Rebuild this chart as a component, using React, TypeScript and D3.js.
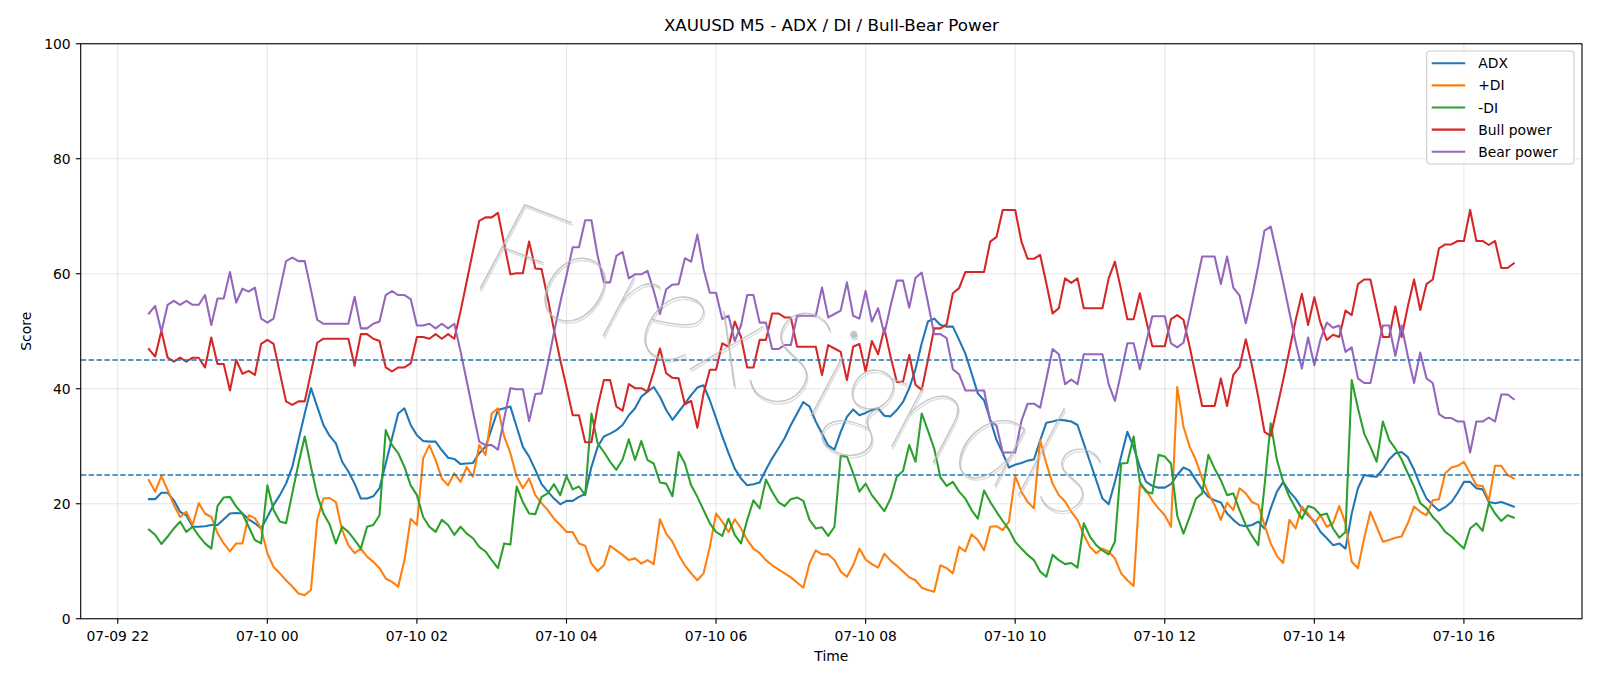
import React from "react";
import * as d3 from "d3";

// M5 bars, first bar at 07-09 22:25
const startTime = new Date(2025, 6, 9, 22, 25);
const barMinutes = 5;

const adx = [
  20.8, 20.8, 21.9, 21.9, 20.6, 18.6, 18.0, 16.0, 16.0, 16.1,
  16.3, 16.3, 17.3, 18.3, 18.4, 18.3, 17.3, 16.6, 15.7, 17.7,
  19.8, 21.5, 23.5, 26.4, 31.1, 35.7, 40.1, 36.9, 33.7, 31.8,
  30.5, 27.3, 25.6, 23.5, 20.9, 20.9, 21.3, 22.7, 27.0, 31.4,
  35.7, 36.6, 33.7, 31.9, 30.9, 30.8, 30.8, 29.3, 28.0, 27.8,
  26.9, 27.0, 27.1, 28.8, 29.9, 33.1, 36.3, 36.6, 36.9, 33.4,
  29.9, 28.2, 25.9, 23.4, 22.1, 20.9, 19.9, 20.5, 20.5, 21.2,
  21.7, 26.4, 29.9, 31.7, 32.2, 32.8, 33.7, 35.4, 36.6, 38.6,
  39.5, 40.3, 38.6, 36.3, 34.6, 36.0, 37.4, 38.9, 40.2, 40.6,
  38.0, 34.9, 31.7, 28.8, 26.1, 24.4, 23.2, 23.4, 23.7, 25.9,
  27.9, 29.6, 31.4, 33.7, 35.7, 37.7, 36.9, 34.3, 32.2, 30.1,
  29.4, 32.5, 35.1, 36.4, 35.4, 35.8, 36.3, 36.6, 35.3, 35.2,
  36.3, 37.7, 40.1, 43.4, 47.9, 51.7, 52.2, 51.1, 50.8, 50.8,
  48.5, 46.1, 42.7, 39.2, 38.0, 34.6, 31.1, 28.8, 26.3, 26.8,
  27.1, 27.5, 27.7, 31.0, 34.1, 34.3, 34.6, 34.5, 34.3, 33.7,
  30.5, 27.3, 24.1, 20.9, 19.9, 23.8, 28.2, 32.5, 29.9, 26.4,
  23.8, 23.1, 22.8, 22.8, 23.4, 25.0, 26.3, 25.8, 24.1, 22.5,
  21.2, 20.6, 20.2, 18.3, 17.2, 16.3, 16.1, 16.3, 16.9, 15.7,
  19.2, 22.1, 23.8, 22.1, 20.9, 19.2, 18.0, 16.9, 15.1, 14.0,
  12.8, 13.1, 12.2, 18.3, 22.7, 25.0, 24.8, 24.7, 26.0, 27.7,
  28.8, 29.0, 28.1, 25.9, 23.2, 20.9, 19.8, 18.8, 19.4, 20.3,
  21.9, 23.8, 23.8, 22.7, 22.5, 20.3, 20.1, 20.3, 19.9, 19.5,
];

const plusDI = [
  24.1, 22.1, 24.8, 22.4, 19.8, 17.7, 18.6, 16.3, 20.1, 18.3,
  17.7, 14.9, 13.1, 11.7, 13.1, 13.1, 18.0, 17.5, 15.7, 11.4,
  9.0, 7.9, 6.7, 5.6, 4.4, 4.1, 5.0, 17.2, 20.9, 21.0,
  20.3, 15.4, 12.8, 11.4, 12.2, 10.8, 9.9, 8.8, 7.0, 6.4,
  5.6, 10.2, 17.4, 16.3, 27.9, 30.2, 27.6, 24.4, 23.2, 25.3,
  23.8, 26.4, 24.7, 30.2, 28.5, 35.7, 36.6, 31.7, 28.8, 24.7,
  22.7, 24.4, 21.5, 20.1, 18.9, 17.4, 16.3, 15.1, 15.1, 13.1,
  12.7, 9.6, 8.3, 9.3, 12.7, 11.9, 11.1, 10.2, 10.5, 9.6,
  10.2, 9.5, 17.3, 14.8, 13.4, 11.1, 9.3, 7.9, 6.7, 7.9,
  12.5, 18.3, 16.9, 15.1, 17.3, 15.7, 13.7, 12.2, 11.4, 10.2,
  9.3, 8.6, 7.9, 7.2, 6.3, 5.4, 9.6, 11.9, 11.2, 11.2,
  10.2, 8.2, 7.3, 9.3, 12.2, 10.3, 9.5, 8.9, 11.3, 10.1,
  9.2, 8.2, 7.2, 6.7, 5.4, 5.0, 4.7, 9.3, 8.8, 7.9,
  12.5, 11.7, 14.7, 13.7, 11.9, 16.0, 16.1, 15.4, 16.9, 24.8,
  22.1, 20.3, 19.2, 31.1, 27.0, 23.5, 21.5, 20.4, 18.6, 17.2,
  14.6, 12.5, 11.4, 12.2, 11.7, 10.5, 7.9, 6.7, 5.7, 23.2,
  22.4, 20.6, 19.2, 18.0, 16.0, 40.3, 33.4, 29.9, 27.6, 24.4,
  21.8, 19.8, 17.2, 20.2, 18.9, 22.7, 21.8, 20.3, 19.8, 16.3,
  13.1, 10.9, 9.7, 17.2, 15.7, 19.5, 18.3, 16.6, 18.0, 16.0,
  16.6, 19.6, 16.6, 9.9, 8.8, 14.0, 18.6, 16.0, 13.4, 13.7,
  14.1, 14.3, 16.6, 19.5, 18.6, 18.0, 20.6, 20.8, 25.3, 26.3,
  26.6, 27.3, 25.3, 23.2, 23.1, 20.6, 26.6, 26.6, 25.0, 24.4,
];

const minusDI = [
  15.5, 14.6, 13.0, 14.3, 15.7, 16.9, 15.1, 16.0, 14.4, 13.1,
  12.2, 19.6, 21.1, 21.2, 19.5, 18.3, 16.0, 13.7, 13.1, 23.2,
  18.9, 16.9, 16.6, 21.8, 27.0, 31.7, 26.4, 21.5, 18.3, 16.4,
  13.1, 16.0, 15.1, 13.7, 12.2, 16.0, 16.3, 18.0, 32.8, 30.2,
  28.8, 26.4, 23.2, 21.5, 17.7, 16.0, 15.1, 17.2, 16.3, 14.6,
  16.0, 14.8, 14.0, 12.5, 11.7, 10.2, 8.8, 13.1, 12.9, 23.0,
  20.3, 18.3, 18.2, 21.2, 21.8, 23.4, 21.5, 24.8, 22.5, 23.0,
  21.5, 35.7, 30.5, 29.0, 27.3, 25.9, 27.7, 31.2, 27.6, 30.9,
  27.6, 27.0, 23.7, 23.5, 21.3, 29.0, 27.0, 23.2, 21.2, 18.9,
  16.6, 15.1, 14.4, 17.4, 14.6, 13.1, 17.2, 20.6, 19.2, 24.2,
  22.1, 20.3, 19.6, 20.8, 21.1, 20.5, 17.2, 15.7, 15.9, 14.4,
  16.0, 28.3, 28.2, 25.3, 22.1, 23.5, 21.5, 20.1, 18.7, 20.9,
  24.7, 25.7, 30.2, 27.3, 35.7, 32.7, 29.6, 24.6, 23.1, 23.8,
  22.1, 20.9, 18.9, 17.4, 22.3, 20.3, 18.6, 17.0, 15.5, 13.4,
  12.2, 11.1, 10.2, 8.2, 7.3, 11.1, 10.2, 9.5, 9.7, 8.9,
  16.6, 14.3, 12.8, 11.9, 11.2, 13.4, 27.0, 27.1, 31.7, 23.8,
  22.1, 21.8, 28.5, 28.2, 27.0, 17.9, 14.8, 17.7, 20.9, 21.8,
  28.5, 26.1, 24.1, 21.5, 21.8, 18.9, 16.3, 14.4, 12.8, 23.0,
  34.0, 27.6, 23.8, 21.2, 19.2, 17.4, 19.6, 19.2, 18.0, 18.3,
  15.7, 14.1, 15.1, 41.5, 36.6, 32.2, 29.9, 27.3, 34.3, 31.1,
  29.6, 27.7, 25.3, 23.0, 20.1, 19.2, 17.7, 16.6, 15.1, 14.3,
  13.2, 12.2, 15.7, 16.6, 15.3, 20.1, 18.3, 17.0, 18.0, 17.6,
];

const bullPower = [
  46.9, 45.6, 50.1, 45.4, 44.7, 45.4, 44.7, 45.4, 45.4, 43.7,
  48.9, 44.3, 44.3, 39.7, 45.0, 42.6, 43.1, 42.4, 47.8, 48.5,
  47.8, 42.8, 37.8, 37.2, 37.8, 37.8, 42.8, 48.0, 48.7, 48.7,
  48.7, 48.7, 48.7, 44.0, 49.5, 49.5, 48.7, 48.3, 43.7, 43.0,
  43.7, 43.7, 44.4, 49.0, 49.0, 48.7, 49.5, 48.7, 49.5, 48.7,
  53.5, 58.7, 64.0, 69.2, 69.8, 69.8, 70.6, 65.2, 59.9, 60.1,
  60.1, 65.6, 60.9, 60.8, 55.7, 50.2, 45.0, 40.3, 35.4, 35.4,
  30.7, 30.7, 36.9, 41.5, 41.5, 36.9, 36.2, 40.8, 40.1, 40.1,
  39.5, 43.0, 47.0, 42.7, 41.9, 41.8, 37.3, 37.9, 33.2, 39.2,
  43.3, 43.3, 47.9, 47.3, 51.7, 49.0, 43.7, 43.7, 48.5, 48.5,
  53.1, 53.1, 52.4, 52.4, 47.3, 47.3, 47.3, 47.3, 42.4, 47.6,
  47.0, 46.4, 41.5, 47.3, 47.8, 43.0, 48.3, 46.0, 50.5, 45.6,
  41.2, 41.2, 45.9, 40.7, 39.8, 45.0, 50.5, 50.5, 51.2, 56.6,
  57.5, 60.3, 60.3, 60.3, 60.3, 65.6, 66.4, 71.1, 71.1, 71.1,
  65.6, 62.6, 62.6, 63.3, 58.3, 53.1, 54.0, 59.2, 58.4, 59.2,
  54.0, 54.0, 54.0, 54.0, 59.2, 62.1, 57.2, 52.1, 52.1, 56.6,
  52.0, 47.4, 47.4, 47.4, 52.1, 52.8, 52.0, 47.3, 42.1, 37.0,
  37.0, 37.0, 41.8, 37.0, 42.4, 43.8, 48.6, 44.0, 38.6, 32.5,
  31.8, 36.6, 41.5, 46.7, 51.9, 56.5, 51.1, 55.9, 51.4, 48.5,
  49.4, 49.0, 53.6, 52.8, 58.2, 59.0, 59.0, 54.0, 49.0, 49.0,
  54.3, 49.0, 54.3, 59.0, 53.7, 58.2, 59.0, 64.4, 65.1, 65.1,
  65.7, 65.7, 71.1, 65.7, 65.7, 65.0, 65.7, 61.0, 61.0, 61.8,
];

const bearPower = [
  53.1, 54.4, 49.9, 54.6, 55.3, 54.6, 55.3, 54.6, 54.6, 56.3,
  51.1, 55.7, 55.7, 60.3, 55.0, 57.4, 56.9, 57.6, 52.2, 51.5,
  52.2, 57.2, 62.2, 62.8, 62.2, 62.2, 57.2, 52.0, 51.3, 51.3,
  51.3, 51.3, 51.3, 56.0, 50.5, 50.5, 51.3, 51.7, 56.3, 57.0,
  56.3, 56.3, 55.6, 51.0, 51.0, 51.3, 50.5, 51.3, 50.5, 51.3,
  46.5, 41.3, 36.0, 30.8, 30.2, 30.2, 29.4, 34.8, 40.1, 39.9,
  39.9, 34.4, 39.1, 39.2, 44.3, 49.8, 55.0, 59.7, 64.6, 64.6,
  69.3, 69.3, 63.1, 58.5, 58.5, 63.1, 63.8, 59.2, 59.9, 59.9,
  60.5, 57.0, 53.0, 57.3, 58.1, 58.2, 62.7, 62.1, 66.8, 60.8,
  56.7, 56.7, 52.1, 52.7, 48.3, 51.0, 56.3, 56.3, 51.5, 51.5,
  46.9, 46.9, 47.6, 47.6, 52.7, 52.7, 52.7, 52.7, 57.6, 52.4,
  53.0, 53.6, 58.5, 52.7, 52.2, 57.0, 51.7, 54.0, 49.5, 54.4,
  58.8, 58.8, 54.1, 59.3, 60.2, 55.0, 49.5, 49.5, 48.8, 43.4,
  42.5, 39.7, 39.7, 39.7, 39.7, 34.4, 33.6, 28.9, 28.9, 28.9,
  34.4, 37.4, 37.4, 36.7, 41.7, 46.9, 46.0, 40.8, 41.6, 40.8,
  46.0, 46.0, 46.0, 46.0, 40.8, 37.9, 42.8, 47.9, 47.9, 43.4,
  48.0, 52.6, 52.6, 52.6, 47.9, 47.2, 48.0, 52.7, 57.9, 63.0,
  63.0, 63.0, 58.2, 63.0, 57.6, 56.2, 51.4, 56.0, 61.4, 67.5,
  68.2, 63.4, 58.5, 53.3, 48.1, 43.5, 48.9, 44.1, 48.6, 51.5,
  50.6, 51.0, 46.4, 47.2, 41.8, 41.0, 41.0, 46.0, 51.0, 51.0,
  45.7, 51.0, 45.7, 41.0, 46.3, 41.8, 41.0, 35.6, 34.9, 34.9,
  34.3, 34.3, 28.9, 34.3, 34.3, 35.0, 34.3, 39.0, 39.0, 38.2,
];

const seriesNames = ["ADX", "+DI", "-DI", "Bull power", "Bear power"];
const seriesColors = ["#1f77b4", "#ff7f0e", "#2ca02c", "#d62728", "#9467bd"];
const seriesValues = [adx, plusDI, minusDI, bullPower, bearPower];
const yTicks = [0, 20, 40, 60, 80, 100];
const refLevels = [25, 45];

const W = 1600;
const H = 686;
const left = 80.7;
const right = 1582;
const top = 43.75;
const bottom = 618.75;
const font = "DejaVu Sans, sans-serif";

const App: React.FC = () => {
  const times = adx.map((_, i) => d3.timeMinute.offset(startTime, i * barMinutes));
  const t0 = +times[0];
  const t1 = +times[times.length - 1];
  const pad = (t1 - t0) * 0.05;

  const x = d3.scaleTime().domain([new Date(t0 - pad), new Date(t1 + pad)]).range([left, right]);
  const y = d3.scaleLinear().domain([0, 100]).range([bottom, top]);
  const xTicks = x.ticks(d3.timeHour.every(2) as d3.TimeInterval);
  const fmt = d3.timeFormat("%m-%d %H");

  const line = d3
    .line<number>()
    .x((_, i) => x(times[i]))
    .y(d => y(d));

  const legendX = 1426.7;
  const legendY = 51;
  const rowH = 22.1;

  return (
    <svg width={W} height={H} style={{ display: "block" }}>
      <style>{`body{margin:0}`}</style>
      <rect width={W} height={H} fill="#fff" />

      {/* grid */}
      <g stroke="#b0b0b0" strokeOpacity={0.3} strokeWidth={1.1}>
        {xTicks.map(t => (
          <line key={+t} x1={x(t)} x2={x(t)} y1={top} y2={bottom} />
        ))}
        {yTicks.map(v => (
          <line key={v} x1={left} x2={right} y1={y(v)} y2={y(v)} />
        ))}
      </g>

      {/* series */}
      <g fill="none" strokeWidth={2.08} strokeLinejoin="round" strokeLinecap="square">
        {seriesValues.map((vals, k) => (
          <path key={k} d={line(vals) || ""} stroke={seriesColors[k]} />
        ))}
      </g>

      {/* reference levels */}
      {refLevels.map(v => (
        <line
          key={v}
          x1={left}
          x2={right}
          y1={y(v)}
          y2={y(v)}
          stroke="#1f77b4"
          strokeWidth={1.5}
          strokeDasharray="5.5,2.4"
        />
      ))}

      {/* watermark */}
      <g
        transform="translate(796,354) rotate(21)"
        fontFamily="Lato, 'DejaVu Sans', sans-serif"
        fontStyle="italic"
        fontWeight={200}
        fontSize={136}
        textAnchor="middle"
        dominantBaseline="central"
      >
        <text x={1.8} y={1.8} fill="#a0a0a0" fillOpacity={0.35}>ForexSignals</text>
        <text fill="#bcbcbc" fillOpacity={0.85}>ForexSignals</text>
      </g>

      {/* axes frame */}
      <rect x={left} y={top} width={right - left} height={bottom - top} fill="none" stroke="#000" strokeWidth={1.1} />

      {/* ticks and axis labels */}
      <g fontFamily={font} fontSize={13.9} fill="#000">
        {xTicks.map(t => (
          <g key={+t}>
            <line x1={x(t)} x2={x(t)} y1={bottom} y2={bottom + 4.9} stroke="#000" strokeWidth={1.1} />
            <text x={x(t)} y={bottom + 22.5} textAnchor="middle">{fmt(t)}</text>
          </g>
        ))}
        {yTicks.map(v => (
          <g key={v}>
            <line x1={left - 4.9} x2={left} y1={y(v)} y2={y(v)} stroke="#000" strokeWidth={1.1} />
            <text x={left - 10} y={y(v)} textAnchor="end" dominantBaseline="central">{v}</text>
          </g>
        ))}
        <text x={(left + right) / 2} y={661} textAnchor="middle">Time</text>
        <text transform={`translate(25.5,${(top + bottom) / 2}) rotate(-90)`} textAnchor="middle" dominantBaseline="central">Score</text>
      </g>

      <text x={(left + right) / 2} y={31} textAnchor="middle" fontFamily={font} fontSize={16.7} fill="#000">
        XAUUSD M5 - ADX / DI / Bull-Bear Power
      </text>

      {/* legend */}
      <g fontFamily={font} fontSize={13.9}>
        <rect x={legendX} y={legendY} width={147.3} height={113} rx={3.5} fill="#fff" fillOpacity={0.8} stroke="#cccccc" strokeWidth={1.1} />
        {seriesNames.map((name, k) => {
          const cy = legendY + 12.3 + k * rowH;
          return (
            <g key={name}>
              <line x1={legendX + 5} x2={legendX + 38.5} y1={cy} y2={cy} stroke={seriesColors[k]} strokeWidth={2.08} />
              <text x={legendX + 51.5} y={cy} dominantBaseline="central" fill="#000">{name}</text>
            </g>
          );
        })}
      </g>
    </svg>
  );
};

export default App;
